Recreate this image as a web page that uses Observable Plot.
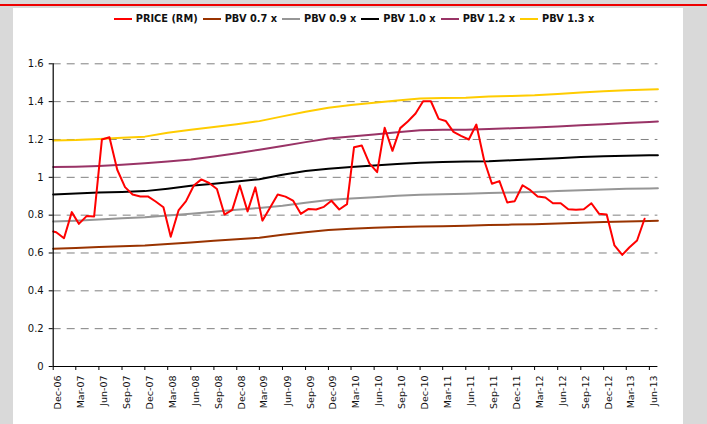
<!DOCTYPE html>
<html><head><meta charset="utf-8">
<script src="https://cdn.jsdelivr.net/npm/d3@7"></script>
<script src="https://cdn.jsdelivr.net/npm/@observablehq/plot@0.6"></script>
<style>
html,body{margin:0;padding:0;}
body{width:707px;height:424px;background:#d9d9d9;position:relative;overflow:hidden;font-family:"DejaVu Sans",Verdana,sans-serif;}
#redline{position:absolute;left:0;top:4px;width:707px;height:2px;background:#ee0000;}
#panel{position:absolute;left:13px;top:8px;width:670px;height:416px;background:#fff;}
#legend{position:absolute;left:3px;top:13px;width:707px;display:flex;justify-content:center;align-items:center;font-size:9.8px;font-weight:bold;color:#111;line-height:12px;}
.item{display:flex;align-items:center;margin-right:5px;}
.sw{display:inline-block;width:18px;height:2px;margin-right:4px;}
#chart{position:absolute;left:0;top:30px;}
</style></head><body>
<div id="redline"></div><div id="panel"></div><div id="legend"></div><div id="chart"></div>
<script>
// Quarterly tick labels on the x axis
const tickLabels = ["Dec-06","Mar-07","Jun-07","Sep-07","Dec-07","Mar-08","Jun-08","Sep-08","Dec-08","Mar-09","Jun-09","Sep-09","Dec-09","Mar-10","Jun-10","Sep-10","Dec-10","Mar-11","Jun-11","Sep-11","Dec-11","Mar-12","Jun-12","Sep-12","Dec-12","Mar-13","Jun-13"];
const yTicks = [0,0.2,0.4,0.6,0.8,1.0,1.2,1.4,1.6];

// Monthly share price (RM), Dec-06 .. May-13
const priceValues = [0.714,0.710,0.678,0.816,0.754,0.795,0.793,1.200,1.212,1.040,0.948,0.909,0.899,0.899,0.872,0.842,0.686,0.825,0.874,0.957,
0.989,0.970,0.938,0.803,0.828,0.957,0.820,0.947,0.771,0.841,0.909,0.898,0.877,0.807,0.833,0.830,0.844,0.876,0.830,0.858,
1.159,1.168,1.074,1.027,1.262,1.140,1.260,1.295,1.337,1.402,1.402,1.309,1.298,1.240,1.219,1.200,1.279,1.090,0.966,0.980,
0.867,0.874,0.958,0.932,0.899,0.893,0.863,0.863,0.831,0.829,0.831,0.863,0.807,0.803,0.640,0.590,0.629,0.666,0.781];

// PBV bands, quarterly from Dec-06 to Jun-13 plus the end of the axis
const pbv07 = [0.622,0.627,0.631,0.635,0.640,0.648,0.656,0.665,0.673,0.681,0.696,0.709,0.721,0.728,0.733,0.737,0.740,0.741,0.744,0.748,0.750,0.752,0.756,0.760,0.764,0.767,0.769,0.770];
const pbv09 = [0.766,0.771,0.777,0.783,0.789,0.798,0.807,0.818,0.829,0.838,0.850,0.866,0.880,0.888,0.895,0.902,0.908,0.910,0.913,0.917,0.920,0.922,0.927,0.932,0.936,0.939,0.941,0.942];
const pbv10 = [0.909,0.914,0.920,0.923,0.927,0.940,0.955,0.966,0.978,0.990,1.014,1.033,1.045,1.054,1.062,1.070,1.077,1.081,1.083,1.085,1.090,1.096,1.101,1.107,1.111,1.114,1.116,1.117];
const pbv12 = [1.054,1.056,1.060,1.066,1.074,1.083,1.094,1.110,1.127,1.146,1.166,1.186,1.205,1.216,1.226,1.238,1.249,1.251,1.252,1.256,1.259,1.263,1.268,1.275,1.281,1.287,1.293,1.295];
const pbv13 = [1.194,1.197,1.203,1.209,1.215,1.235,1.252,1.266,1.281,1.297,1.322,1.347,1.368,1.382,1.394,1.406,1.416,1.419,1.421,1.427,1.430,1.434,1.441,1.448,1.455,1.460,1.464,1.466];

const seriesNames = ["PRICE (RM)","PBV 0.7 x","PBV 0.9 x","PBV 1.0 x","PBV 1.2 x","PBV 1.3 x"];
const seriesColors = ["#ff0000","#993300","#969696","#000000","#993366","#ffcc00"];

const x0 = new Date(Date.UTC(2006,11,1));
const x1 = new Date(Date.UTC(2013,6,5));
const parse = d3.utcParse("%b-%y");
const tickDates = tickLabels.map(parse);
const pbvDates = [...tickDates, x1];
const priceDates = [x0, ...d3.range(priceValues.length - 1).map(k => new Date(Date.UTC(2006, 11 + k, 13)))];

const price = priceValues.map((v,i) => ({date: priceDates[i], value: v}));
const pbvSeries = [pbv07, pbv09, pbv10, pbv12, pbv13].map((vals, j) => ({
  name: seriesNames[j+1], color: seriesColors[j+1],
  data: vals.map((v,i) => ({date: pbvDates[i], value: v}))
}));

// Legend
const legend = document.getElementById("legend");
seriesNames.forEach((n,i) => {
  const it = document.createElement("div"); it.className = "item";
  const sw = document.createElement("span"); sw.className = "sw"; sw.style.background = seriesColors[i];
  const t = document.createElement("span"); t.textContent = n;
  it.appendChild(sw); it.appendChild(t); legend.appendChild(it);
});

const W = 707, H = 394;
const chart = Plot.plot({
  width: W, height: H,
  marginLeft: 52.7, marginRight: 49.6, marginTop: 33.3, marginBottom: 58,
  style: {background: "transparent", fontFamily: "'DejaVu Sans', Verdana, sans-serif", color: "#111"},
  x: {type: "utc", domain: [x0, x1], axis: null},
  y: {domain: [0, 1.6], axis: null},
  marks: [
    Plot.ruleY(yTicks.filter(d => d > 0), {stroke: "#808080", strokeWidth: 1, strokeDasharray: "8,6"}),
    ...pbvSeries.map(s => Plot.line(s.data, {x: "date", y: "value", stroke: s.color, strokeWidth: 2})),
    Plot.line(price, {x: "date", y: "value", stroke: seriesColors[0], strokeWidth: 2}),
    Plot.ruleX([x0], {stroke: "#000", strokeWidth: 1.2}),
    Plot.ruleY([0], {stroke: "#000", strokeWidth: 1.2}),
    Plot.ruleY(yTicks, {x1: () => x0, x2: () => x0, insetLeft: -4, stroke: "#000"}),
    Plot.ruleX(tickDates, {x: d => d, y1: () => 0, y2: () => 0, insetBottom: -4, stroke: "#000"}),
    Plot.text(yTicks, {x: () => x0, y: d => d, text: d => d3.format("~g")(d), textAnchor: "end", dx: -9.5, fontSize: 10, fill: "#111"}),
    Plot.text(tickDates, {x: d => d, frameAnchor: "bottom", text: (d,i) => tickLabels[i], rotate: -90, textAnchor: "end", lineAnchor: "middle", dx: 5, dy: 9, fontSize: 9.5, fill: "#111"})
  ]
});
document.getElementById("chart").appendChild(chart);
</script></body></html>
